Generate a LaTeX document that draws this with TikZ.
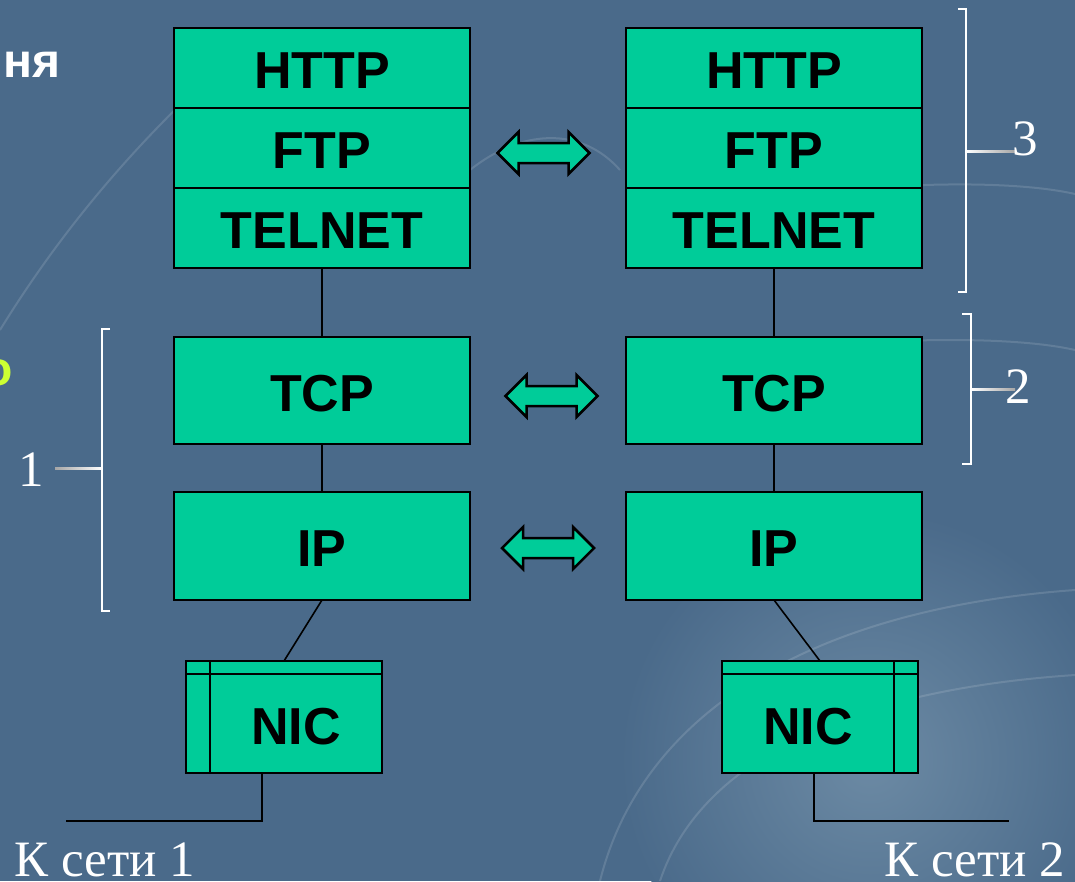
\documentclass[tikz,border=0pt]{standalone}
\usepackage{fontspec}
\setmainfont{Liberation Serif}
\setsansfont{Liberation Sans}
\usepackage{tikz}
\usetikzlibrary{positioning}

\definecolor{slide}{RGB}{74,106,138}
\definecolor{slidelight}{RGB}{108,138,164}
\definecolor{layer}{RGB}{0,204,153}
\definecolor{lime}{RGB}{204,255,51}

\tikzset{
  layerbox/.style={draw=black, fill=layer, line width=2.5pt, outer sep=0pt,
    minimum width=296pt, minimum height=80pt, inner sep=0pt,
    text height=41pt, text depth=0pt,
    font=\sffamily\bfseries\fontsize{52}{52}\selectfont},
  nicbox/.style={draw=black, fill=layer, line width=2.5pt, outer sep=0pt,
    minimum width=196pt, minimum height=112pt, inner sep=0pt},
  nictext/.style={inner sep=0pt, text height=41pt, text depth=0pt,
    font=\sffamily\bfseries\fontsize{52}{52}\selectfont},
  wire/.style={line width=1.6pt},
  brace/.style={white, line width=1.6pt},
  callout/.style={inner sep=0pt, text=white, font=\fontsize{51}{51}\selectfont},
  glint/.style={white, opacity=0.13, line width=2pt},
  pics/twoway/.style={code={
    \draw[fill=layer, line width=2.5pt, line join=miter]
      (-46,0) -- (-25,-21) -- (-25,-10) -- (25,-10) -- (25,-21) -- (46,0)
      -- (25,21) -- (25,10) -- (-25,10) -- (-25,21) -- cycle;
  }}
}

\begin{document}
\begin{tikzpicture}[x=1pt, y=-1pt]
    % Slide background
    \useasboundingbox (0,0) rectangle (1075,881);
    \clip (0,0) rectangle (1075,881);
    \fill[slide] (0,0) rectangle (1075,881);
    \shade[inner color=slidelight, outer color=slide] (870,760) circle (250);
    \draw[glint] (0,330) .. controls (80,200) and (170,110) .. (250,40);
    \draw[glint] (470,170) .. controls (520,130) and (580,125) .. (620,170);
    \draw[glint] (900,186) .. controls (980,182) and (1040,186) .. (1075,194);
    \draw[glint] (900,341) .. controls (980,338) and (1040,342) .. (1075,350);
    \draw[glint] (600,881) .. controls (640,720) and (800,610) .. (1075,590);
    \draw[glint] (660,881) .. controls (700,760) and (850,690) .. (1075,675);

    % Cut-off slide text
    \node[anchor=base west, inner sep=0pt, text=white,
          font=\sffamily\bfseries\fontsize{48}{48}\selectfont] (title) at (3,77) {ня};
    \node[anchor=base east, inner sep=0pt, text=lime,
          font=\sffamily\bfseries\fontsize{48}{48}\selectfont] (bullet) at (13,385) {о};

    % Upper layers of both hosts
    \foreach \lay/\y in {HTTP/68, FTP/148, TELNET/228} {
        \node[layerbox] (l\lay) at (322,\y) {\lay};
        \node[layerbox] (r\lay) at (774,\y) {\lay};
    }
    \node[layerbox, minimum height=107pt] (lTCP) at (322,390.5) {TCP};
    \node[layerbox, minimum height=107pt] (rTCP) at (774,390.5) {TCP};
    \node[layerbox, minimum height=108pt] (lIP) at (322,546) {IP};
    \node[layerbox, minimum height=108pt] (rIP) at (774,546) {IP};

    % Network cards
    \node[nicbox] (lnic) at (284,717) {};
    \node[nicbox] (rnic) at (820,717) {};
    \draw[line width=2.5pt] ([yshift=-13pt]lnic.north west) -- ([yshift=-13pt]lnic.north east);
    \draw[line width=2.5pt] ([xshift=24pt]lnic.north west) -- ([xshift=24pt]lnic.south west);
    \draw[line width=2.5pt] ([yshift=-13pt]rnic.north west) -- ([yshift=-13pt]rnic.north east);
    \draw[line width=2.5pt] ([xshift=-24pt]rnic.north east) -- ([xshift=-24pt]rnic.south east);
    \node[nictext] (lnicname) at (296,723.5) {NIC};
    \node[nictext] (rnicname) at (808,723.5) {NIC};

    % Links inside each host
    \draw[wire] (lTELNET) -- (lTCP);
    \draw[wire] (lTCP) -- (lIP);
    \draw[wire] (lIP.south) -- (lnic.north);
    \draw[wire] (rTELNET) -- (rTCP);
    \draw[wire] (rTCP) -- (rIP);
    \draw[wire] (rIP.south) -- (rnic.north);

    % Cables to the networks
    \coordinate (lnet) at (66,821);
    \coordinate (rnet) at (1009,821);
    \draw[wire] ([xshift=-22pt]lnic.south) |- (lnet);
    \draw[wire] ([xshift=-6pt]rnic.south) |- (rnet);
    \node[callout, anchor=base] (net1) at (105,876) {К сети 1};
    \node[callout, anchor=base] (net2) at (975,876) {К сети 2};

    % Peer exchange
    \pic at (543.5,153) {twoway};
    \pic at (551.5,396) {twoway};
    \pic at (548,548) {twoway};

    % Brackets with numbers
    \draw[brace] (958,9) -| (966,292) -- (958,292);
    \draw[brace] (962,314) -| (971,464) -- (962,464);
    \draw[brace] (110,329) -| (102,611) -- (110,611);
    \shade[left color=white, right color=gray!70] (966,150) rectangle (1015,152);
    \shade[left color=white, right color=gray!70] (971,388) rectangle (1015,390);
    \shade[left color=gray!70, right color=white] (55,467) rectangle (102,469);
    \node[callout, anchor=base] (lab3) at (1025,155) {3};
    \node[callout, anchor=base] (lab2) at (1018,403) {2};
    \node[callout, anchor=base] (lab1) at (31,486) {1};
\end{tikzpicture}
\end{document}
